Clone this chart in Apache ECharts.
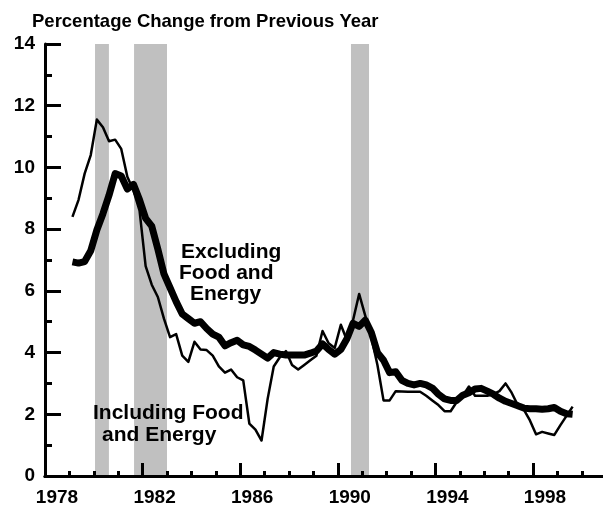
<!DOCTYPE html>
<html>
<head>
<meta charset="utf-8">
<script src="https://cdn.jsdelivr.net/npm/echarts@6/dist/echarts.min.js"></script>
<style>
  html, body { margin: 0; padding: 0; background: #fff; }
  #main { width: 603px; height: 519px; }
</style>
</head>
<body>
<div id="main"></div>
<script>
// quarterly readings, first point 1979 Q1
var startYear = 1979;
var excluding = [
    6.94, 6.90, 6.95, 7.30, 7.97, 8.50, 9.10, 9.80, 9.72, 9.30,
    9.45, 8.95, 8.35, 8.10, 7.35, 6.55, 6.10, 5.65, 5.25, 5.10,
    4.95, 5.00, 4.78, 4.60, 4.50, 4.22, 4.32, 4.40, 4.25, 4.20,
    4.08, 3.95, 3.82, 4.00, 3.95, 3.92, 3.92, 3.92, 3.92, 3.98,
    4.05, 4.28, 4.10, 3.95, 4.10, 4.45, 4.95, 4.85, 5.05, 4.65,
    4.00, 3.75, 3.35, 3.38, 3.10, 3.00, 2.95, 3.00, 2.95, 2.85,
    2.65, 2.50, 2.45, 2.45, 2.62, 2.70, 2.82, 2.84, 2.75, 2.65,
    2.52, 2.42, 2.35, 2.28, 2.20, 2.18, 2.18, 2.16, 2.18, 2.22,
    2.10, 2.02, 2.00
];
var including = [
    8.40, 8.95, 9.80, 10.40, 11.55, 11.30, 10.85, 10.90, 10.60, 9.70,
    9.25, 8.60, 6.80, 6.20, 5.80, 5.10, 4.50, 4.60, 3.90, 3.70,
    4.35, 4.10, 4.08, 3.90, 3.55, 3.35, 3.45, 3.20, 3.10, 1.70,
    1.50, 1.15, 2.50, 3.55, 3.85, 4.05, 3.60, 3.45, 3.60, 3.75,
    3.90, 4.70, 4.30, 4.15, 4.90, 4.40, 5.05, 5.90, 5.20, 4.50,
    3.60, 2.45, 2.45, 2.75, 2.74, 2.73, 2.73, 2.73, 2.60, 2.45,
    2.30, 2.10, 2.10, 2.40, 2.60, 2.90, 2.60, 2.60, 2.60, 2.65,
    2.75, 3.00, 2.70, 2.30, 2.15, 1.80, 1.35, 1.43, 1.38, 1.33,
    1.65, 1.95, 2.25
];
var recessions = [[1980.05, 1980.62], [1981.65, 1983.0], [1990.54, 1991.28]];
var yearLabels = [1978, 1982, 1986, 1990, 1994, 1998];

function pairs(vals) {
    return vals.map(function (v, i) {
        return [startYear + 0.125 + 0.25 * i, v];
    });
}

var chartDom = document.getElementById('main');
var myChart = echarts.init(chartDom);
var font = 'Liberation Sans';
var xMin = 1978, xMax = 2000.87;

// one small tick per year
var allYears = [];
for (var yr = 1978; yr <= 2000; yr++) allYears.push(yr);

function line() {
    return { color: '#000', width: 3 };
}

function label(text, x, y) {
    return {
        type: 'text', x: x, y: y, z: 100,
        style: {
            text: text, align: 'left', verticalAlign: 'middle',
            fontFamily: font, fontWeight: 'bold', fontSize: 21, fill: '#000'
        }
    };
}

var option = {
    animation: false,
    backgroundColor: '#fff',
    title: {
        text: 'Percentage Change from Previous Year',
        left: 27,
        top: 7,
        textStyle: { fontFamily: font, fontWeight: 'bold', fontSize: 18.5, color: '#000' }
    },
    grid: { left: 45, right: 0, top: 44, bottom: 43 },
    xAxis: [{
        type: 'value',
        z: 10,
        min: xMin,
        max: xMax,
        axisLine: { show: true, lineStyle: line() },
        axisTick: { show: true, inside: true, length: 13, customValues: yearLabels, lineStyle: line() },
        splitLine: { show: false },
        axisLabel: {
            customValues: yearLabels,
            margin: 12,
            padding: [0, 0, 0, 24],
            fontFamily: font, fontWeight: 'bold', fontSize: 19, color: '#000',
            formatter: function (v) { return String(v); }
        }
    }, {
        type: 'value',
        z: 10,
        position: 'top',
        min: xMin,
        max: xMax,
        axisLine: { show: true, lineStyle: line() },
        axisTick: { show: false },
        axisLabel: { show: false },
        splitLine: { show: false }
    }, {
        type: 'value',
        z: 10,
        position: 'bottom',
        min: xMin,
        max: xMax,
        axisLine: { show: false },
        axisTick: { show: true, inside: true, length: 5, customValues: allYears, lineStyle: line() },
        axisLabel: { show: false },
        splitLine: { show: false }
    }],
    yAxis: [{
        type: 'value',
        z: 10,
        min: 0,
        max: 14,
        interval: 2,
        axisLine: { show: true, lineStyle: line() },
        axisTick: { show: true, inside: true, length: 16, lineStyle: line() },
        splitLine: { show: false },
        axisLabel: { margin: 10, fontFamily: font, fontWeight: 'bold', fontSize: 19, color: '#000' }
    }, {
        type: 'value',
        z: 10,
        position: 'left',
        min: 0,
        max: 14,
        interval: 1,
        axisLine: { show: false },
        axisTick: { show: true, inside: true, length: 7, lineStyle: line() },
        axisLabel: { show: false },
        splitLine: { show: false }
    }],
    series: [
        {
            name: 'Excluding Food and Energy',
            type: 'line',
            data: pairs(excluding),
            showSymbol: false,
            lineStyle: { color: '#000', width: 7, join: 'round' },
            z: 3,
            markArea: {
                silent: true,
                itemStyle: { color: '#c0c0c0' },
                data: recessions.map(function (r) {
                    return [{ xAxis: r[0] }, { xAxis: r[1] }];
                })
            }
        },
        {
            name: 'Including Food and Energy',
            type: 'line',
            data: pairs(including),
            showSymbol: false,
            lineStyle: { color: '#000', width: 2.5, join: 'round' },
            z: 4
        }
    ],
    graphic: [
        label('Excluding', 181, 252),
        label('Food and', 179, 273),
        label('Energy', 190, 294),
        label('Including Food', 93, 413),
        label('and Energy', 102, 435)
    ]
};

option && myChart.setOption(option);
</script>
</body>
</html>
